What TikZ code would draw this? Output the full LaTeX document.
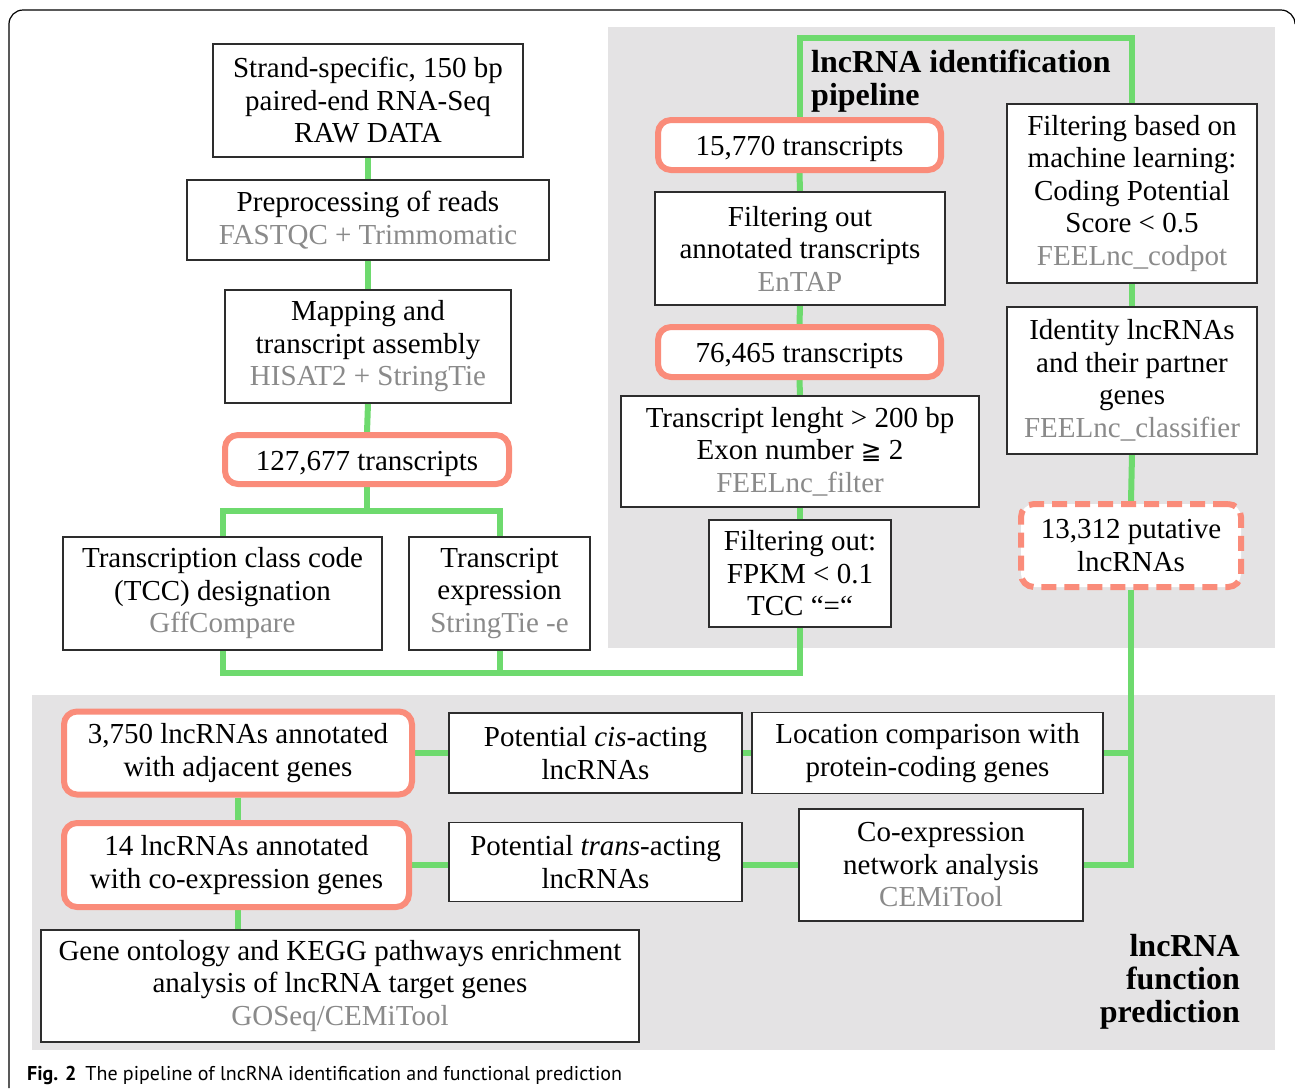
\documentclass[tikz,border=0pt]{standalone}
\usepackage{fontspec}
\setmainfont{Liberation Serif}
\newfontfamily\capfont{PT Sans}
\newfontfamily\symfont[Scale=0.85]{DejaVu Sans}
\usetikzlibrary{backgrounds}
\definecolor{lgreen}{RGB}{110,218,110}
\definecolor{salmon}{RGB}{250,140,122}
\definecolor{panelgray}{RGB}{228,227,228}
\definecolor{toolgray}{RGB}{138,138,138}
\definecolor{boxline}{RGB}{45,45,45}
\newcommand{\mainsz}{\fontsize{29}{32.5}\selectfont}
\newcommand{\tl}[1]{\textcolor{toolgray}{#1}}
\newcommand{\lowr}[1]{\raisebox{-4pt}[0.68em][0.22em]{#1}}
\tikzset{
  box/.style={draw=boxline, line width=1.3pt, fill=white, align=center, inner sep=0pt, font=\mainsz},
  hl/.style={draw=salmon, line width=6pt, rounded corners=13pt, fill=white, align=center, inner sep=0pt, font=\mainsz},
  hldash/.style={hl, dash pattern=on 15pt off 8pt},
  link/.style={draw=lgreen, line width=6pt},
  panel/.style={fill=panelgray, draw=none},
  ttl/.style={font=\bfseries\fontsize{32}{32.8}\selectfont, inner sep=0pt},
}
\begin{document}
\begin{tikzpicture}[x=1pt,y=-1pt]
\useasboundingbox (0,0) rectangle (1295,1088);
% outer frame
\draw[line width=1.2pt, black] (9,1088) -- (9,24) arc[start angle=180,end angle=270,radius=14] -- (1281,10) arc[start angle=270,end angle=360,radius=14];

% left column
\node[box, minimum width=310, minimum height=113] (A) at (368,100.5) {Strand-specific, 150 bp\\paired-end RNA-Seq\\RAW DATA};
\node[box, minimum width=362, minimum height=80] (B) at (368,220) {Preprocessing of reads\\\tl{FASTQC + Trimmomatic}};
\node[box, minimum width=286, minimum height=113] (C) at (368,346.5) {Mapping and\\transcript assembly\\\tl{HISAT2 + StringTie}};
\node[hl, minimum width=284, minimum height=49] (D) at (367,459.5) {\lowr{127,677 transcripts}};
\node[box, minimum width=319, minimum height=113] (E) at (222.5,593.5) {Transcription class code\\(TCC) designation\\\tl{GffCompare}};
\node[box, minimum width=181, minimum height=113] (F) at (499.5,593.5) {Transcript\\expression\\\tl{StringTie -e}};

% identification panel
\node[hl, minimum width=283, minimum height=50] (H) at (799.5,145) {\lowr{15,770 transcripts}};
\node[box, minimum width=290, minimum height=113] (I) at (800,248.5) {Filtering out\\annotated transcripts\\\tl{EnTAP}};
\node[hl, minimum width=283, minimum height=50] (J) at (799.5,352) {\lowr{76,465 transcripts}};
\node[box, minimum width=358, minimum height=111] (K) at (800,451.5) {Transcript lenght > 200 bp\\Exon number {\symfont ≧} 2\\\tl{FEELnc\_filter}};
\node[box, minimum width=182, minimum height=107] (L) at (800,573.5) {Filtering out:\\FPKM < 0.1\\TCC “=“};
\node[box, minimum width=250, minimum height=179] (M) at (1132,193.5) {Filtering based on\\machine learning:\\Coding Potential\\Score < 0.5\\\tl{FEELnc\_codpot}};
\node[box, minimum width=250, minimum height=147] (N) at (1132,380.5) {Identity lncRNAs\\and their partner\\genes\\\tl{FEELnc\_classifier}};
\node[hldash, minimum width=220, minimum height=83] (O) at (1131,545.5) {13,312 putative\\lncRNAs};
\node[ttl, anchor=north west, align=left] (T1) at (811,50) {lncRNA identification\\pipeline};

% function prediction panel
\node[hl, minimum width=348, minimum height=83] (P) at (238,753) {3,750 lncRNAs annotated\\with adjacent genes};
\node[box, minimum width=293, minimum height=80] (Q) at (595.5,753) {Potential \textit{cis}-acting\\lncRNAs};
\node[box, minimum width=351, minimum height=81] (R) at (927.5,753) {Location comparison with\\protein-coding genes};
\node[hl, minimum width=345, minimum height=84] (S) at (236.5,865) {14 lncRNAs annotated\\with co-expression genes};
\node[box, minimum width=293, minimum height=79] (T) at (595.5,862) {Potential \textit{trans}-acting\\lncRNAs};
\node[box, minimum width=284, minimum height=112] (U) at (941,865) {Co-expression\\network analysis\\\tl{CEMiTool}};
\node[box, minimum width=598, minimum height=112] (V) at (340,986) {Gene ontology and KEGG pathways enrichment\\analysis of lncRNA target genes\\\tl{GOSeq/CEMiTool}};
\node[ttl, anchor=north east, align=right] (T2) at (1240,934) {lncRNA\\function\\prediction};

% caption
\node[anchor=base west, inner sep=0pt, font=\capfont\fontsize{20}{24}\selectfont] (cap) at (27,1080) {\textbf{Fig. 2}\hspace{0.45em}The pipeline of lncRNA identification and functional prediction};

\coordinate (dj) at (367,511);
\coordinate (bot) at (0,673);
\coordinate (toprow) at (0,38);

\begin{scope}[on background layer]
\fill[panel] (608,27) rectangle (1275,648);
\fill[panel] (32,695) rectangle (1275,1050);
% left column links
\draw[link] (A.south) -- (B.north);
\draw[link] (B.south) -- (C.north);
\draw[link] (C.south) -- (D.north);
\draw[link] (D.south) -- (dj);
\draw[link] (E.north) |- (dj) -| (F.north);
\draw[link] (E.south) -- (E.south |- bot) -| (L.south);
\draw[link] (F.south) -- (F.south |- bot);
% identification links
\draw[link] (L.north) -- (K.south);
\draw[link] (K.north) -- (J.south);
\draw[link] (J.north) -- (I.south);
\draw[link] (I.north) -- (H.south);
\draw[link] (H.north) -- (H.north |- toprow) -| (M.north);
\draw[link] (M.south) -- (N.north);
\draw[link] (N.south) -- (O.north);
% function links
\draw[link] (O.south) |- (U.east);
\draw[link] (R.east) -- (R.east -| O.south);
\draw[link] (P.east) -- (Q.west);
\draw[link] (Q.east) -- (R.west);
\draw[link] (S.east) -- (T.west |- S.east);
\draw[link] (T.east |- S.east) -- (U.west);
\draw[link] (P.south) -- (P.south |- S.north);
\draw[link] (P.south |- S.south) -- (P.south |- V.north);
\end{scope}
\end{tikzpicture}
\end{document}
